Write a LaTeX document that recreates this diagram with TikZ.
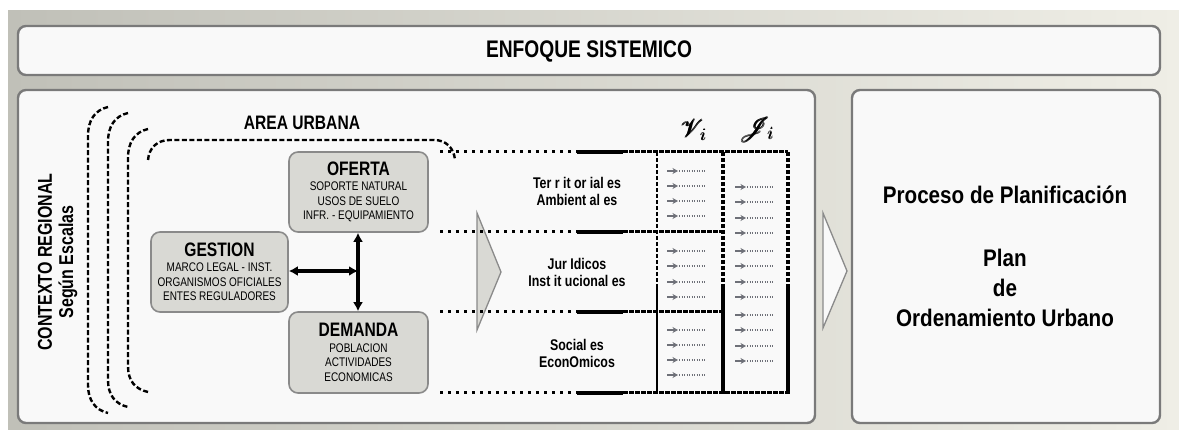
\documentclass[tikz,border=0pt]{standalone}
\usepackage{fontspec}
\setmainfont{Liberation Sans}[FakeStretch=0.8]
\newfontfamily\widefont{Liberation Sans}[FakeStretch=0.86]
\usepackage{amsmath}
\usepackage{mathrsfs}
\usetikzlibrary{arrows.meta}
\definecolor{bgL}{HTML}{C0C0B8}
\definecolor{bgR}{HTML}{EFEEE6}
\definecolor{paper}{HTML}{F9F9F9}
\definecolor{frame}{HTML}{7A7A7A}
\definecolor{boxfill}{HTML}{D9D9D4}
\definecolor{boxline}{HTML}{8A8A8A}
\definecolor{itemcol}{HTML}{6E7078}
\tikzset{
  panel/.style={draw=frame, line width=2.4pt, fill=paper, rounded corners=8pt},
  gbox/.style={draw=boxline, line width=1.6pt, fill=boxfill, rounded corners=9pt,
    inner sep=0pt, align=center, font=\fontsize{12.5}{14.5}\selectfont},
  bracket/.style={draw=black, line width=2.4pt, dash pattern=on 5pt off 2.5pt},
  dotline/.style={line width=3pt, dash pattern=on 3pt off 5pt},
  solidline/.style={line width=3.5pt},
  dashline/.style={line width=3pt, dash pattern=on 4.5pt off 1.5pt},
  dbl/.style={line width=3.4pt, {Latex[length=9pt,width=10pt]}-{Latex[length=9pt,width=10pt]}},
  itemarr/.style={draw=itemcol, line width=1.6pt, -{Stealth[length=5.5pt,width=6pt]}},
  itemdot/.style={draw=itemcol, line width=1.2pt, dash pattern=on 1.3pt off 1.2pt},
  bigarrow/.style={draw=boxline, line width=1.3pt},
  rowlabel/.style={font=\fontsize{15.5}{17}\selectfont\bfseries, align=center},
}
\newcommand{\boxtitle}[1]{{\fontsize{19.5}{19.5}\selectfont\bfseries #1}}
\begin{document}
\begin{tikzpicture}[x=1pt,y=-1pt]
\useasboundingbox (0,0) rectangle (1179,430);
% background
\shade[left color=bgL, right color=bgR] (8,11) rectangle (1179,430);
% panels
\draw[panel] (18,26) rectangle (1160,75);
\node[font=\fontsize{24}{24}\selectfont\bfseries] (enfoque) at (589,51) {ENFOQUE SISTEMICO};
\draw[panel] (18,90) rectangle (815,423);
\draw[panel] (852,90) rectangle (1160,423);
% right text
\node[font=\fontsize{24}{24}\widefont\bfseries] (proceso) at (1005,195) {Proceso de Planificación};
\node[align=center, font=\fontsize{24}{30}\widefont\bfseries] (plan) at (1005,287.5) {Plan\\de\\Ordenamiento Urbano};
% regional context labels
\node[rotate=90, font=\fontsize{20}{20}\selectfont\bfseries] (contexto) at (45,262) {CONTEXTO REGIONAL};
\node[rotate=90, font=\fontsize{20}{20}\selectfont\bfseries] (escalas) at (68,262) {Según Escalas};
% brackets
\draw[bracket] (108,107) .. controls (95,110) and (88,120) .. (88,136) -- (88,385) .. controls (88,400) and (95,410) .. (108,413);
\draw[bracket] (128,113) .. controls (115,116) and (108,126) .. (108,142) -- (108,380) .. controls (108,395) and (115,404) .. (128,407);
\draw[bracket] (148,129) .. controls (135,132) and (128,142) .. (128,158) -- (128,366) .. controls (128,381) and (135,389) .. (148,392);
\draw[bracket] (148,160) .. controls (149,148) and (157,140) .. (170,140) -- (434,140) .. controls (446,140) and (454,148) .. (455,160);
\node[font=\fontsize{19.5}{19.5}\selectfont\bfseries] (area) at (302,123) {AREA URBANA};
% big triangle arrows
\draw[bigarrow, fill=boxfill] (477,213) -- (501,272) -- (477,330) -- cycle;
\draw[bigarrow, fill=paper] (823,213) -- (847,271) -- (823,328) -- cycle;
% component boxes
\node[gbox, minimum width=139pt, minimum height=80pt] (oferta) at (358.5,192)
  {\boxtitle{OFERTA}\\[1pt] SOPORTE NATURAL\\USOS DE SUELO\\INFR. - EQUIPAMIENTO};
\node[gbox, minimum width=137pt, minimum height=80pt] (gestion) at (219.5,272)
  {\boxtitle{GESTION}\\[1pt] MARCO LEGAL - INST.\\ORGANISMOS OFICIALES\\ENTES REGULADORES};
\node[gbox, minimum width=139pt, minimum height=81pt] (demanda) at (358.5,352.5)
  {\boxtitle{DEMANDA}\\[1pt] POBLACION\\ACTIVIDADES\\ECONOMICAS};
\coordinate (j) at (358,271);
\draw[dbl] (oferta.south -| j) -- (demanda.north -| j);
\draw[dbl] (gestion.east |- j) -- (j);
% table lines
\foreach \y/\e in {152/788, 232/723, 312/723, 393/788} {
  \draw[dotline] (440,\y) -- (577,\y);
  \draw[solidline] (577,\y) -- (623,\y);
  \draw[dashline] (623,\y) -- (\e,\y);
}
\foreach \x/\w in {657/2.5pt, 723/3.5pt, 788/3.5pt} {
  \draw[line width=\w, dash pattern=on 4.5pt off 1.5pt] (\x,152) -- (\x,288);
  \draw[line width=\w] (\x,288) -- (\x,394.5);
}
% column headers
\node[font=\fontsize{25}{25}\selectfont] (vi) at (694,130) {$\pmb{\mathscr{V}}_{\!\pmb{i}}$};
\node[font=\fontsize{25}{25}\selectfont] (ji) at (757,130) {$\pmb{\mathscr{J}}_{\!\pmb{i}}$};
% row labels
\node[rowlabel] (r1) at (577,191.5) {Ter r it or ial es\\Ambient al es};
\node[rowlabel] (r2) at (577,272.5) {Jur Idicos\\Inst it ucional es};
\node[rowlabel] (r3) at (577,353.5) {Social es\\EconOmicos};
% items
\foreach \y in {171,186,201,216,251,266,282,297,330,345,360,375} {
  \draw[itemarr] (667,\y) -- (678,\y);
  \draw[itemdot] (679,\y) -- (705,\y);
}
\foreach \y in {187,202,218,233,251,266,282,297,315,330,346,361} {
  \draw[itemarr] (735,\y) -- (746,\y);
  \draw[itemdot] (747,\y) -- (773,\y);
}
\end{tikzpicture}
\end{document}
